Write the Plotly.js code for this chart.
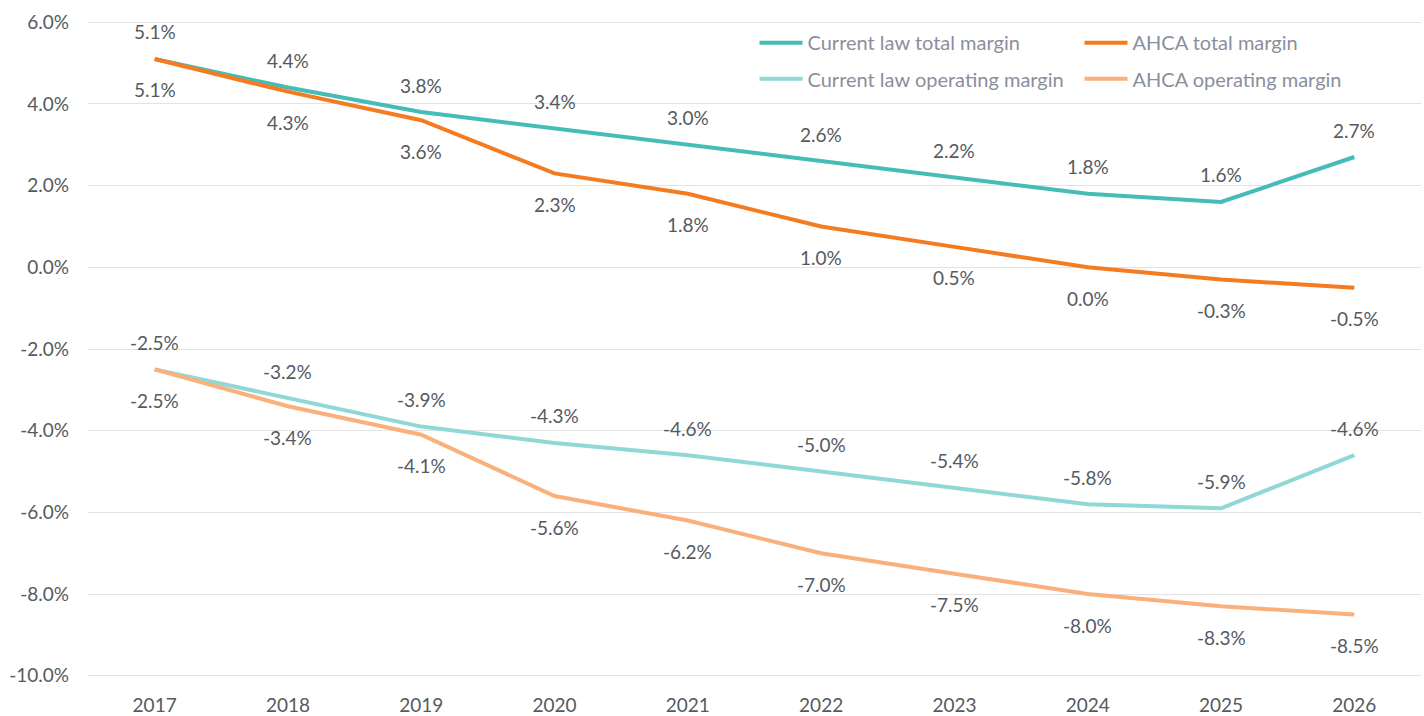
<!DOCTYPE html>
<html>
<head>
<meta charset="utf-8">
<script src="https://cdn.plot.ly/plotly-3.0.1.min.js"></script>
<style>html,body{margin:0;padding:0;background:#fff;}#chart{width:1424px;height:716px;}</style>
</head>
<body>
<div id="chart"></div>
<script>
const years = ['2017','2018','2019','2020','2021','2022','2023','2024','2025','2026'];
const currentLawTotal = [5.1, 4.4, 3.8, 3.4, 3.0, 2.6, 2.2, 1.8, 1.6, 2.7];
const ahcaTotal = [5.1, 4.3, 3.6, 2.3, 1.8, 1.0, 0.5, 0.0, -0.3, -0.5];
const currentLawOperating = [-2.5, -3.2, -3.9, -4.3, -4.6, -5.0, -5.4, -5.8, -5.9, -4.6];
const ahcaOperating = [-2.5, -3.4, -4.1, -5.6, -6.2, -7.0, -7.5, -8.0, -8.3, -8.5];
const seriesNames = ['Current law total margin','AHCA total margin','Current law operating margin','AHCA operating margin'];
const yTicks = [-10, -8, -6, -4, -2, 0, 2, 4, 6];

const colors = ['#45bcb8', '#f47b20', '#8fd8d6', '#f9b07a'];
const seriesData = [currentLawTotal, ahcaTotal, currentLawOperating, ahcaOperating];
const legends = ['legend', 'legend', 'legend2', 'legend2'];
const labelAbove = [true, false, true, false];
const FONT = 'Lato, sans-serif';

const traces = seriesData.map((vals, i) => ({
  type: 'scatter', mode: 'lines', x: years, y: vals, name: seriesNames[i],
  line: {color: colors[i], width: 4}, legend: legends[i], hoverinfo: 'skip'
}));

const annotations = [];
seriesData.forEach((vals, i) => {
  vals.forEach((v, j) => {
    annotations.push({
      x: j, y: v, xref: 'x', yref: 'y', showarrow: false,
      text: v.toFixed(1) + '%', yshift: labelAbove[i] ? 27 : -31,
      xanchor: 'center', yanchor: 'middle',
      font: {family: FONT, size: 19, color: '#555a60'}
    });
  });
});

const legendCommon = {
  orientation: 'h', xref: 'paper', yref: 'paper', xanchor: 'left', yanchor: 'middle',
  bgcolor: 'rgba(0,0,0,0)', entrywidth: 267, entrywidthmode: 'pixels',
  font: {family: FONT, size: 20, color: '#8a8f9c'}, itemwidth: 43, traceorder: 'normal'
};

const layout = {
  width: 1424, height: 716,
  margin: {l: 88, r: 3, t: 21, b: 39, autoexpand: false},
  paper_bgcolor: '#ffffff', plot_bgcolor: '#ffffff',
  font: {family: FONT, size: 19, color: '#555a60'},
  showlegend: true,
  legend: Object.assign({}, legendCommon, {x: 0.5, y: 0.967}),
  legend2: Object.assign({}, legendCommon, {x: 0.5, y: 0.912}),
  xaxis: {
    type: 'category', range: [-0.5, 9.5], showgrid: false, zeroline: false,
    showline: false, ticks: '', tickfont: {family: FONT, size: 19, color: '#555a60'},
    ticklabelstandoff: 15, fixedrange: true, automargin: false
  },
  yaxis: {
    range: [-10.03, 6.03], tickvals: yTicks, ticktext: yTicks.map(v => v.toFixed(1) + '%'),
    showgrid: true, gridcolor: '#e2e2e2', gridwidth: 1, zeroline: true, zerolinecolor: '#e2e2e2', zerolinewidth: 1,
    showline: false, ticks: '', tickfont: {family: FONT, size: 19, color: '#555a60'},
    ticklabelstandoff: 18, fixedrange: true, automargin: false
  },
  annotations: annotations
};

Plotly.newPlot('chart', traces, layout, {displayModeBar: false, staticPlot: true});
</script>
</body>
</html>
